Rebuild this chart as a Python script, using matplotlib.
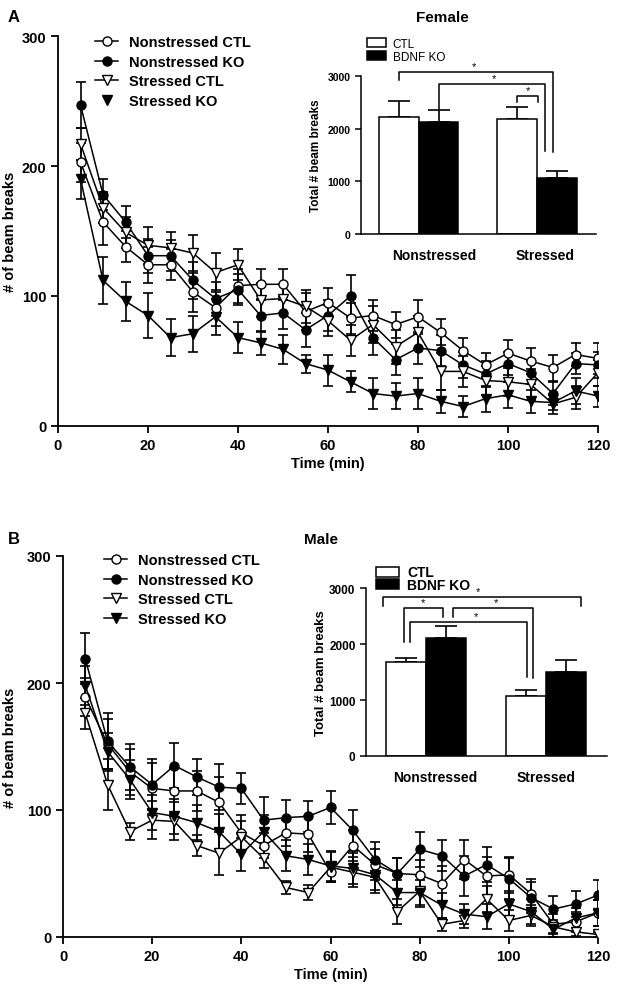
import matplotlib
matplotlib.use("Agg")
import matplotlib.pyplot as plt
import numpy as np
from matplotlib.lines import Line2D
from matplotlib.patches import Patch

plt.rcParams['font.family'] = ['Liberation Sans', 'DejaVu Sans']

# ---------------- data ----------------
times = [5, 10, 15, 20, 25, 30, 35, 40, 45, 50, 55, 60, 65, 70, 75, 80, 85, 90, 95, 100, 105, 110, 115, 120]
series_labels = ["Nonstressed CTL", "Nonstressed KO", "Stressed CTL", "Stressed KO"]

# Female
f_nctl = [203, 157, 138, 124, 124, 103, 91, 108, 109, 109, 88, 95, 83, 85, 78, 84, 72, 58, 47, 56, 50, 45, 55, 52]
f_nko = [247, 178, 157, 131, 131, 112, 98, 105, 85, 87, 74, 85, 100, 68, 51, 60, 58, 47, 40, 48, 41, 25, 48, 47]
f_sctl = [217, 168, 149, 139, 137, 133, 118, 124, 97, 98, 92, 81, 66, 78, 61, 72, 42, 42, 35, 34, 32, 17, 22, 41]
f_sko = [190, 112, 96, 85, 68, 71, 84, 68, 64, 59, 48, 43, 34, 25, 23, 25, 19, 15, 21, 24, 19, 18, 27, 23]
f_nctl_err = [15, 18, 12, 14, 12, 15, 14, 13, 12, 12, 14, 11, 12, 12, 10, 13, 10, 10, 9, 10, 10, 10, 9, 12]
f_nko_err = [18, 12, 12, 13, 12, 14, 13, 12, 13, 12, 13, 12, 16, 13, 12, 12, 12, 10, 10, 9, 9, 9, 8, 10]
f_sctl_err = [12, 12, 12, 14, 12, 14, 15, 12, 13, 11, 13, 12, 12, 14, 13, 13, 14, 12, 11, 11, 12, 8, 9, 10]
f_sko_err = [15, 18, 15, 17, 14, 14, 14, 12, 9, 11, 7, 12, 8, 12, 10, 12, 9, 8, 10, 10, 9, 6, 10, 8]

# Male
m_nctl = [189, 152, 130, 117, 115, 115, 106, 82, 72, 82, 81, 51, 72, 57, 50, 49, 42, 61, 48, 49, 34, 10, 12, 19]
m_nko = [219, 154, 134, 120, 135, 126, 118, 117, 92, 94, 95, 102, 84, 61, 50, 69, 64, 48, 57, 46, 31, 22, 26, 33]
m_sctl = [176, 120, 83, 92, 91, 72, 66, 79, 62, 39, 35, 55, 51, 47, 20, 36, 10, 13, 30, 13, 17, 8, 4, 2]
m_sko = [198, 146, 124, 98, 95, 90, 83, 65, 83, 64, 61, 56, 54, 49, 35, 35, 25, 18, 16, 26, 20, 6, 15, 19]
m_nctl_err = [15, 20, 18, 20, 18, 16, 20, 14, 10, 10, 14, 8, 12, 12, 12, 12, 14, 15, 15, 14, 12, 8, 8, 10]
m_nko_err = [20, 22, 18, 20, 18, 14, 18, 12, 18, 14, 12, 13, 16, 14, 12, 14, 12, 16, 14, 16, 12, 10, 10, 12]
m_sctl_err = [12, 20, 7, 15, 15, 8, 17, 12, 8, 5, 6, 12, 12, 12, 10, 12, 5, 6, 10, 8, 8, 5, 3, 2]
m_sko_err = [15, 15, 15, 14, 14, 14, 14, 13, 13, 12, 12, 12, 12, 12, 10, 10, 10, 8, 10, 10, 10, 6, 8, 10]

# Inset totals
groups = ["Nonstressed", "Stressed"]
bar_labels = ["CTL", "BDNF KO"]
f_tot_ctl = [2220, 2180]
f_tot_ko = [2120, 1060]
f_tot_ctl_err = [300, 240]
f_tot_ko_err = [240, 140]
m_tot_ctl = [1680, 1070]
m_tot_ko = [2100, 1500]
m_tot_ctl_err = [70, 110]
m_tot_ko_err = [220, 210]

# ---------------- figure ----------------
W, H = 620, 995
fig = plt.figure(figsize=(W / 100, H / 100), dpi=100)


def px_axes(l, r, t, b):
    return fig.add_axes([l / W, 1 - b / H, (r - l) / W, (b - t) / H])


styles = [
    dict(marker='o', mfc='white'),
    dict(marker='o', mfc='black'),
    dict(marker='v', mfc='white'),
    dict(marker='v', mfc='black'),
]


def main_panel(ax, data, errs, ylab_x):
    for y, e, st in zip(data, errs, styles):
        ax.errorbar(times, y, yerr=e, fmt='none', ecolor='black', elinewidth=1.2,
                    capsize=3.5, capthick=1.2, zorder=2)
        ax.plot(times, y, color='black', lw=1.1, marker=st['marker'], mfc=st['mfc'],
                mec='black', mew=1.0, ms=6.5, zorder=3)
    ax.set_xlim(0, 120)
    ax.set_ylim(0, 300)
    ax.set_xticks([0, 20, 40, 60, 80, 100, 120])
    ax.set_yticks([0, 100, 200, 300])
    for s in ['top', 'right']:
        ax.spines[s].set_visible(False)
    for s in ['left', 'bottom']:
        ax.spines[s].set_linewidth(1.3)
    ax.tick_params(width=1.3, length=5, labelsize=10.5)
    for lab in ax.get_xticklabels() + ax.get_yticklabels():
        lab.set_fontweight('bold')
    ax.set_ylabel("# of beam breaks", fontsize=10.5, fontweight='bold')
    ax.yaxis.set_label_coords(ylab_x, 0.5)
    ax.set_xlabel("Time (min)", fontsize=10.5, fontweight='bold', labelpad=3)


def legend_handles(no_line_last=False):
    hs = []
    for i, st in enumerate(styles):
        ls = '-' if not (no_line_last and i == 3) else 'none'
        hs.append(Line2D([], [], color='black', lw=1.1, ls=ls, marker=st['marker'],
                         mfc=st['mfc'], mec='black', ms=6.5))
    return hs


def inset(ax, ctl, ko, ctl_err, ko_err, ylab_size, tick_size, tick_pos, ylab_x):
    x = np.arange(len(groups))
    w = 0.335
    ax.bar(x - w / 2, ctl, w, color='white', edgecolor='black', lw=1.1, zorder=2)
    ax.bar(x + w / 2, ko, w, color='black', edgecolor='black', lw=1.1, zorder=2)
    ax.errorbar(x - w / 2, ctl, yerr=[np.zeros(len(ctl)), ctl_err], fmt='none',
                ecolor='black', elinewidth=1.2, capsize=8, capthick=1.2, zorder=1)
    ax.errorbar(x + w / 2, ko, yerr=[np.zeros(len(ko)), ko_err], fmt='none',
                ecolor='black', elinewidth=1.2, capsize=8, capthick=1.2, zorder=1)
    ax.set_ylim(0, 3000)
    ax.set_yticks([0, 1000, 2000, 3000])
    ax.set_xticks(tick_pos)
    ax.set_xticklabels(groups, fontsize=10, fontweight='bold')
    ax.tick_params(axis='x', length=0, pad=10)
    ax.tick_params(axis='y', width=1.1, length=4, labelsize=tick_size)
    for lab in ax.get_yticklabels():
        lab.set_fontweight('bold')
    for s in ['top', 'right']:
        ax.spines[s].set_visible(False)
    for s in ['left', 'bottom']:
        ax.spines[s].set_linewidth(1.1)
    ax.set_ylabel("Total # beam breaks", fontsize=ylab_size, fontweight='bold')
    ax.yaxis.set_label_coords(ylab_x, 0.5)
    hs = [Patch(facecolor='white', edgecolor='black', lw=1.1),
          Patch(facecolor='black', edgecolor='black', lw=1.1)]
    return hs


def bracket(ax, x1, y1, x2, y2, ytop, star_x=None):
    ax.plot([x1, x1, x2, x2], [y1, ytop, ytop, y2], color='black', lw=1.1, clip_on=False, zorder=4)
    sx = (x1 + x2) / 2 if star_x is None else star_x
    ax.text(sx, ytop + 20, "*", ha='center', va='bottom', fontsize=8)


# ---- Panel A ----
axA = px_axes(58, 598, 37, 427)
main_panel(axA, [f_nctl, f_nko, f_sctl, f_sko], [f_nctl_err, f_nko_err, f_sctl_err, f_sko_err],
           (17 - 58) / 540)
fig.legend(legend_handles(no_line_last=True), series_labels, loc='upper left',
           bbox_to_anchor=(82 / W, 1 - 23 / H), frameon=False, handlelength=1.6,
           handletextpad=0.7, labelspacing=0.38, prop=dict(weight='bold', size=10.5))
fig.text(14 / W, 1 - 18 / H, "A", fontsize=12, fontweight='bold', ha='center', va='center')
fig.text(442 / W, 1 - 18 / H, "Female", fontsize=11, fontweight='bold', ha='center', va='center')

insA = px_axes(361, 596, 77, 235)
insA.set_xlim(-0.49, 1.5)
hA = inset(insA, f_tot_ctl, f_tot_ko, f_tot_ctl_err, f_tot_ko_err, 8.5, 7.5, [0.13, 1.07],
           (322 - 361) / 235)
fig.legend(hA, bar_labels, loc='upper left', bbox_to_anchor=(356 / W, 1 - 28 / H), frameon=False,
           handlelength=1.6, handleheight=0.8, handletextpad=0.6, labelspacing=0.1,
           prop=dict(size=8.5))
w = 0.335
bracket(insA, -w / 2 - 0.0, 2920, 1 + w / 2 - 0.03, 1560, 3070, star_x=0.47)
bracket(insA, w / 2, 2370, 1 + w / 2 - 0.1, 1575, 2846, star_x=0.64)
bracket(insA, 1 - w / 2, 2500, 1 + w / 2 - 0.16, 2500, 2620)

# ---- Panel B ----
axB = px_axes(63, 598, 557, 938)
main_panel(axB, [m_nctl, m_nko, m_sctl, m_sko], [m_nctl_err, m_nko_err, m_sctl_err, m_sko_err],
           (17 - 63) / 535)
fig.legend(legend_handles(), series_labels, loc='upper left',
           bbox_to_anchor=(91 / W, 1 - 541 / H), frameon=False, handlelength=1.6,
           handletextpad=0.7, labelspacing=0.38, prop=dict(weight='bold', size=10.5))
fig.text(14 / W, 1 - 539 / H, "B", fontsize=12, fontweight='bold', ha='center', va='center')
fig.text(321 / W, 1 - 540 / H, "Male", fontsize=11, fontweight='bold', ha='center', va='center')

insB = px_axes(366, 607, 589, 757)
insB.set_xlim(-0.5, 1.51)
hB = inset(insB, m_tot_ctl, m_tot_ko, m_tot_ctl_err, m_tot_ko_err, 9.5, 8.5, [0.08, 1.0],
           (327 - 366) / 241)
fig.legend(hB, bar_labels, loc='upper left', bbox_to_anchor=(364 / W, 1 - 554 / H), frameon=False,
           handlelength=1.6, handleheight=0.75, handletextpad=0.6, labelspacing=-0.1,
           prop=dict(size=10, weight='bold'))
bracket(insB, -0.358, 2680, 1.29, 2680, 2840, star_x=0.43)
bracket(insB, -0.183, 2036, 0.14, 2480, 2640)
bracket(insB, 0.225, 2480, 0.89, 1390, 2640, star_x=0.58)
bracket(insB, -0.133, 2036, 0.84, 1410, 2390, star_x=0.42)

fig.savefig("out.png", dpi=100)
